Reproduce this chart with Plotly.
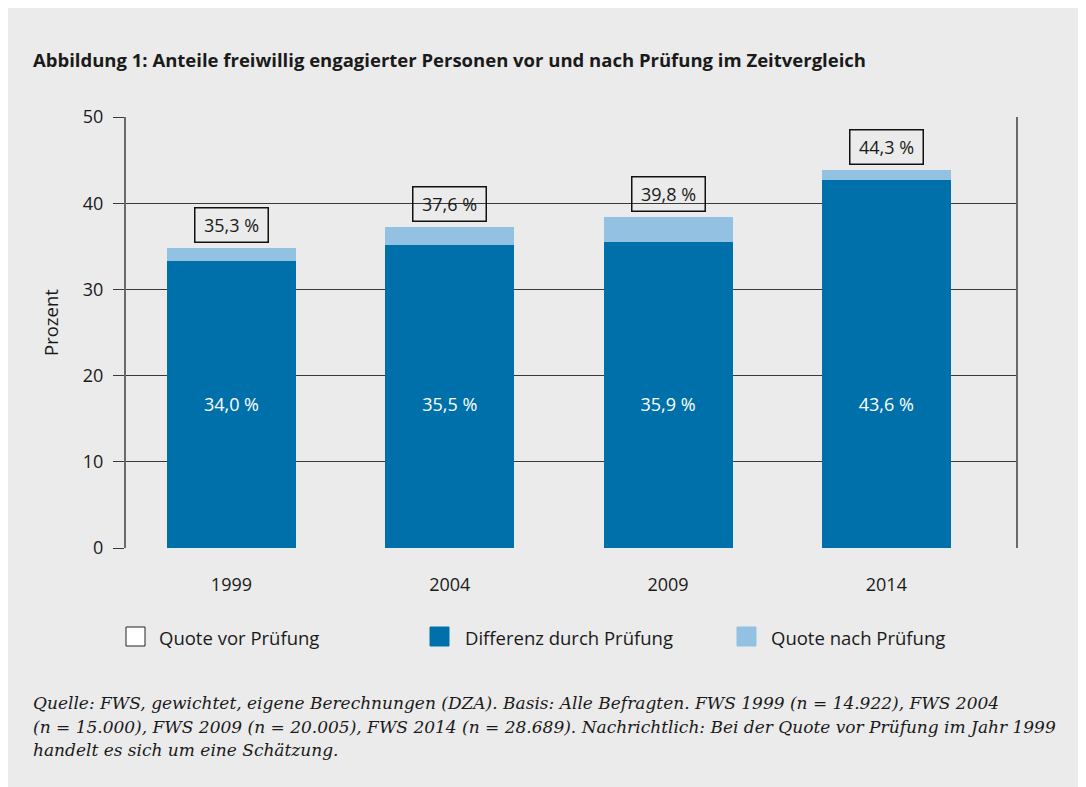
import plotly.graph_objects as go

# ---------------- data ----------------
years = ["1999", "2004", "2009", "2014"]
dark_values = [33.3, 35.15, 35.5, 42.7]        # dark blue segment height
light_values = [1.5, 2.1, 2.9, 1.15]           # light blue segment on top
inner_labels = ["34,0 %", "35,5 %", "35,9 %", "43,6 %"]
top_labels = ["35,3 %", "37,6 %", "39,8 %", "44,3 %"]
legend_names = ["Quote vor Prüfung", "Differenz durch Prüfung", "Quote nach Prüfung"]
y_ticks = [0, 10, 20, 30, 40, 50]

title_text = "Abbildung 1: Anteile freiwillig engagierter Personen vor und nach Prüfung im Zeitvergleich"
footnote_lines = [
    "Quelle: FWS, gewichtet, eigene Berechnungen (DZA). Basis: Alle Befragten. FWS 1999 (n = 14.922), FWS 2004",
    "(n = 15.000), FWS 2009 (n = 20.005), FWS 2014 (n = 28.689). Nachrichtlich: Bei der Quote vor Prüfung im Jahr 1999",
    "handelt es sich um eine Schätzung.",
]

# ---------------- style ----------------
W, H = 1086, 787
L, R, T, B = 118, 1008, 109, 540          # plot area in figure pixels
BG = "#ebebeb"
DARK = "#0070aa"
LIGHT = "#92c1e1"
FONT = "Open Sans"
FOOT_FONT = "DejaVu Serif"
TXT = "#1a1a1a"


def px_x(p):
    return (p - L) / (R - L)


def px_y(p):
    return (B - p) / (B - T)


totals = [d + l for d, l in zip(dark_values, light_values)]
idx = list(range(len(years)))

fig = go.Figure()
fig.add_trace(go.Bar(x=idx, y=dark_values, marker=dict(color=DARK, line=dict(width=0)),
                     width=0.591, name=legend_names[1], showlegend=False, hoverinfo="skip"))
fig.add_trace(go.Bar(x=idx, y=light_values, marker=dict(color=LIGHT, line=dict(width=0)),
                     width=0.591, name=legend_names[2], showlegend=False, hoverinfo="skip"))

# inner white labels
LABEL_Y = 16.4
fig.add_trace(go.Scatter(x=idx, y=[LABEL_Y] * len(years), mode="text", text=inner_labels,
                         textfont=dict(family=FONT, size=18, color="white"),
                         showlegend=False, hoverinfo="skip"))

annotations = []
for i, tot, lab in zip(idx, totals, top_labels):
    annotations.append(dict(x=i, y=tot, xref="x", yref="y", text=lab, showarrow=False,
                            yanchor="bottom", yshift=5, width=70, height=31,
                            bordercolor="#111111", borderwidth=1.5, borderpad=1,
                            font=dict(family=FONT, size=18, color=TXT)))

# title
annotations.append(dict(x=px_x(23), y=px_y(52), xref="paper", yref="paper", xanchor="left",
                        yanchor="middle", text="<b>" + title_text + "</b>", showarrow=False,
                        font=dict(family=FONT, size=18.5, color=TXT)))
# y axis title
annotations.append(dict(x=px_x(42), y=px_y(315), xref="paper", yref="paper", text="Prozent",
                        textangle=-90, showarrow=False, xanchor="center", yanchor="middle",
                        font=dict(family=FONT, size=18.5, color=TXT)))
# footnote, one annotation per line
foot_y = [695, 719, 742]
for line, fy in zip(footnote_lines, foot_y):
    annotations.append(dict(x=px_x(23), y=px_y(fy), xref="paper", yref="paper", xanchor="left",
                            yanchor="middle", align="left", text="<i>" + line + "</i>",
                            showarrow=False, font=dict(family=FOOT_FONT, size=17, color=TXT)))

# manual legend
legend_box_x = [118, 422, 729]
legend_text_x = [149, 455, 761]
legend_fill = ["white", DARK, LIGHT]
legend_line = ["#222222", DARK, LIGHT]
shapes = []
for bx, tx, fc, lc, nm in zip(legend_box_x, legend_text_x, legend_fill, legend_line, legend_names):
    shapes.append(dict(type="rect", xref="paper", yref="paper", x0=px_x(bx), x1=px_x(bx + 19),
                       y0=px_y(638), y1=px_y(619), fillcolor=fc, line=dict(color=lc, width=1)))
    annotations.append(dict(x=px_x(tx), y=px_y(629), xref="paper", yref="paper", xanchor="left",
                            yanchor="middle", text=nm, showarrow=False,
                            font=dict(family=FONT, size=18.5, color=TXT)))

fig.update_layout(
    width=W, height=H,
    margin=dict(l=L, r=W - R, t=T, b=H - B, pad=0),
    paper_bgcolor=BG, plot_bgcolor=BG,
    barmode="stack", bargap=0,
    font=dict(family=FONT, size=18, color=TXT),
    showlegend=False,
    annotations=annotations, shapes=shapes,
    xaxis=dict(range=[-0.483, 3.594], tickvals=idx, ticktext=years, showgrid=False, showline=False,
               zeroline=False, ticks="", ticklabelstandoff=24,
               tickfont=dict(family=FONT, size=18, color=TXT)),
    yaxis=dict(range=[0, 50], tickvals=y_ticks, showgrid=True, gridcolor="#3a3a3a", gridwidth=1,
               zeroline=False, showline=True, linecolor="#6a6a6a", linewidth=2, mirror=True,
               ticks="outside", ticklen=11, tickcolor="#3a3a3a", tickwidth=1,
               ticklabelstandoff=6, tickfont=dict(family=FONT, size=18, color=TXT)),
)

fig.write_html("out.html")
